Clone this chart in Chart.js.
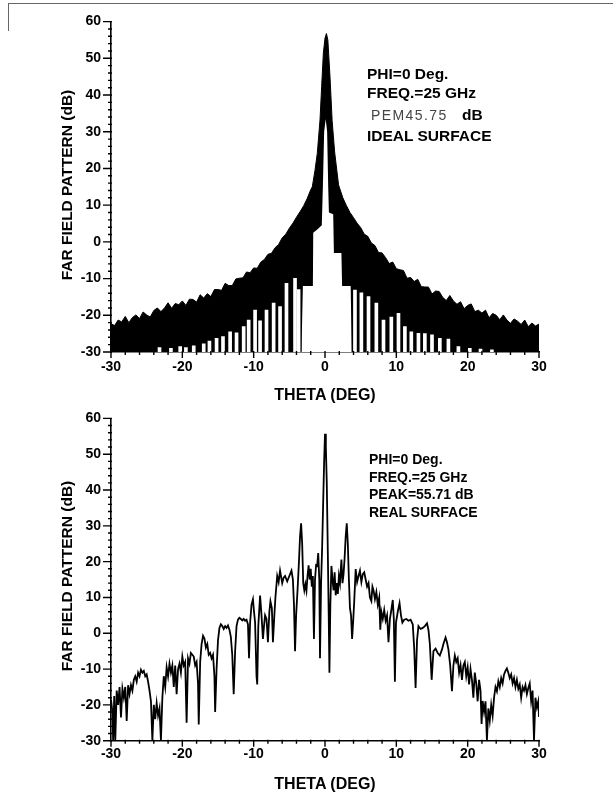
<!DOCTYPE html>
<html><head><meta charset="utf-8">
<script src="https://cdn.jsdelivr.net/npm/chart.js@4.4.0/dist/chart.umd.min.js"></script>
<style>
html,body{margin:0;padding:0;background:#fff;}
body{width:613px;height:797px;position:relative;overflow:hidden;font-family:'Liberation Sans',Arial,sans-serif;}
canvas{position:absolute;left:0;}
#c1{top:0;}
#c2{top:400px;}
.t{position:absolute;font-weight:bold;color:#000;line-height:1;white-space:nowrap;}
.big{font-size:15.5px;}
.mid{font-size:14px;}
.ax{position:absolute;font-weight:bold;font-size:16px;line-height:1;white-space:nowrap;color:#000;transform:translate(-50%,-50%);}
.axv{font-size:15.5px;transform:translate(-50%,-50%) rotate(-90deg);}
.pem{position:absolute;font-size:14px;color:#444;line-height:1;letter-spacing:1.4px;white-space:nowrap;}
.art{position:absolute;background:#666;}
</style></head>
<body>
<div class="art" style="left:8px;top:3px;width:605px;height:1px;"></div>
<div class="art" style="left:8px;top:3px;width:1px;height:28px;"></div>
<canvas id="c1" width="613" height="405"></canvas>
<canvas id="c2" width="613" height="397"></canvas>

<div class="t big" style="left:367px;top:66px;">PHI=0 Deg.</div>
<div class="t big" style="left:367px;top:85px;">FREQ.=25 GHz</div>
<div class="pem" style="left:371px;top:108px;">PEM45.75</div>
<div class="t big" style="left:462px;top:107px;">dB</div>
<div class="t big" style="left:367px;top:128px;">IDEAL SURFACE</div>

<div class="t mid" style="left:369px;top:452px;">PHI=0 Deg.</div>
<div class="t mid" style="left:369px;top:469.5px;">FREQ.=25 GHz</div>
<div class="t mid" style="left:369px;top:487px;">PEAK=55.71 dB</div>
<div class="t mid" style="left:369px;top:504.5px;">REAL SURFACE</div>

<div class="ax" style="left:325px;top:395px;">THETA (DEG)</div>
<div class="ax" style="left:325px;top:784px;">THETA (DEG)</div>
<div class="ax axv" style="left:67px;top:185px;">FAR FIELD PATTERN (dB)</div>
<div class="ax axv" style="left:67px;top:576px;">FAR FIELD PATTERN (dB)</div>

<script>
// ---------- data: ideal surface (upper envelope of the dense pattern) ----------
const topTheta = [-30,-29.5,-29,-28.5,-28,-27.5,-27,-26.5,-26,-25.5,-25,-24.5,-24,-23.5,-23,-22.5,-22,-21.5,-21,-20.5,-20,-19.5,-19,-18.5,-18,-17.5,-17,-16.5,-16,-15.5,-15,-14.5,-14,-13.5,-13,-12.5,-12,-11.5,-11,-10.5,-10,-9.5,-9,-8.5,-8,-7.5,-7,-6.5,-6,-5.5,-5,-4.5,-4,-3.5,-3,-2.5,-2,-1.78,-1.4,-1.08,-0.7,-0.47,-0.23,0,0.2,0.4,0.7,1.0,1.35,1.9,2.5,3,3.5,4,4.5,5,5.5,6,6.5,7,7.5,8,8.5,9,9.5,10,10.5,11,11.5,12,12.5,13,13.5,14,14.5,15,15.5,16,16.5,17,17.5,18,18.5,19,19.5,20,20.5,21,21.5,22,22.5,23,23.5,24,24.5,25,25.5,26,26.5,27,27.5,28,28.5,29,29.5,30];
const topUpper = [-22.3,-22.8,-21.3,-21.8,-20.3,-22.0,-20.6,-19.9,-20.9,-19.1,-19.9,-20.5,-18.7,-18.0,-19.0,-18.0,-16.6,-18.1,-16.8,-17.1,-16.1,-17.3,-15.6,-15.7,-16.4,-14.4,-15.3,-14.1,-14.9,-13.0,-13.0,-13.2,-11.3,-11.9,-11.9,-10.1,-9.9,-9.8,-8.2,-8.4,-7.1,-7.2,-5.5,-4.8,-3.4,-3.1,-1.6,-0.7,1.1,2.1,3.7,5.1,6.7,8.2,9.8,11.8,14.2,15.0,19.5,24.1,33.2,42.3,51.4,55.5,56.75,55.0,45.0,33.0,24.5,15.5,12.0,9.9,8.0,6.6,5.1,3.9,2.1,1.5,-0.3,-1.0,-2.9,-3.0,-4.3,-5.9,-5.5,-7.3,-7.6,-7.8,-9.9,-9.7,-10.8,-10.2,-12.2,-12.3,-12.3,-14.2,-13.4,-13.5,-15.1,-16.0,-14.6,-16.1,-17.0,-16.3,-18.2,-17.3,-16.9,-19.0,-18.6,-19.4,-18.6,-20.7,-19.5,-20.0,-21.2,-19.9,-21.3,-22.2,-21.0,-21.6,-22.5,-21.3,-23.1,-22.1,-22.9,-22.4];
// inner white region under the main beam (lower envelope near boresight)
const tentTheta = [-3.3,-3.1,-1.7,-1.65,-1.0,-0.45,-0.3,-0.12,0.1,0.3,0.45,0.55,1.15,1.25,2.3,2.4,3.6,3.75];
const tentDb    = [-30,-12,-12,2.5,3.5,4.5,15,30,33.5,30,15,8,7.5,-3,-3,-12,-12,-30];
// white gaps between deep nulls (top of each gap, dB)
const gapTheta = [-23.2,-21.6,-20.3,-19.5,-18.4,-17.0,-16.2,-15.2,-14.3,-13.3,-12.4,-11.4,-10.7,-9.8,-9.1,-8.2,-7.2,-6.3,-5.4,-4.2,-3.7,4.2,5.1,6.1,7.2,8.2,9.3,10.3,11.2,12.1,13.1,14.0,15.0,16.1,17.3,18.7,20.3,21.8,23.4];
const gapTop   = [-28.8,-29,-28.5,-28.8,-28.3,-27.8,-27.0,-26.3,-25.8,-24.5,-24.8,-23.1,-21.3,-18.6,-21.5,-18.6,-16.7,-17.6,-11.3,-9.9,-13,-13.1,-13.9,-14.9,-16.7,-21.3,-20.5,-19.5,-23.1,-24.5,-24.9,-25.0,-25.3,-26.3,-26.5,-28.5,-29,-29.2,-29.4];

// ---------- data: real surface ----------
const realTheta = [
 -30.0,-29.8,-29.7,-29.55,-29.4,-29.2,-29.0,-28.8,-28.6,-28.4,
 -28.2,-28.0,-27.8,-27.6,-27.4,-27.2,-27.0,-26.8,-26.6,-26.4,
 -26.2,-26.0,-25.8,-25.6,-25.4,-25.2,-25.0,-24.8,-24.6,-24.4,
 -24.2,-24.0,-23.8,-23.6,-23.4,-23.2,-23.0,-22.8,-22.6,-22.4,
 -22.2,-22.0,-21.8,-21.6,-21.4,-21.2,-21.0,-20.8,-20.6,-20.4,
 -20.2,-20.0,-19.8,-19.6,-19.4,-19.2,-19.0,-18.8,-18.6,-18.4,
 -18.2,-18.0,-17.8,-17.7,-17.5,-17.3,-17.1,-16.9,-16.7,-16.5,
 -16.3,-16.1,-15.9,-15.7,-15.5,-15.4,-15.2,-15.0,-14.8,-14.6,
 -14.4,-14.2,-14.0,-13.8,-13.6,-13.4,-13.2,-13.0,-12.8,-12.6,
 -12.4,-12.2,-12.0,-11.8,-11.6,-11.4,-11.2,-11.0,-10.8,-10.65,
 -10.5,-10.3,-10.1,-9.95,-9.8,-9.6,-9.5,-9.35,-9.1,-8.9,
 -8.7,-8.55,-8.4,-8.2,-8.0,-7.8,-7.65,-7.45,-7.3,-7.1,
 -6.95,-6.7,-6.5,-6.3,-6.0,-5.8,-5.6,-5.3,-5.0,-4.7,
 -4.5,-4.35,-4.2,-4.05,-3.85,-3.65,-3.5,-3.35,-3.2,-3.05,
 -2.9,-2.75,-2.6,-2.45,-2.3,-2.15,-2.0,-1.85,-1.7,-1.55,
 -1.4,-1.25,-1.1,-0.95,-0.8,-0.7,-0.55,-0.4,-0.25,-0.12,
 0.0,0.12,0.25,0.4,0.52,0.62,0.75,0.9,1.05,1.2,
 1.35,1.5,1.65,1.8,1.95,2.1,2.3,2.45,2.6,2.75,
 2.9,3.05,3.2,3.35,3.5,3.65,3.8,3.95,4.1,4.3,
 4.5,4.7,4.9,5.1,5.3,5.5,5.7,5.9,6.1,6.3,
 6.5,6.65,6.8,7.0,7.2,7.4,7.6,7.75,7.9,8.1,
 8.3,8.5,8.7,8.9,9.1,9.3,9.5,9.65,9.8,9.95,
 10.2,10.45,10.65,10.85,11.1,11.4,11.7,12.0,12.3,12.5,
 12.7,12.9,13.1,13.4,13.7,14.0,14.3,14.5,14.7,14.95,
 15.2,15.5,15.8,16.1,16.4,16.6,16.9,17.1,17.3,17.55,
 17.8,18.0,18.2,18.4,18.6,18.8,19.0,19.2,19.4,19.6,
 19.8,20.0,20.2,20.4,20.6,20.8,21.0,21.2,21.4,21.6,
 21.8,21.95,22.1,22.3,22.5,22.7,22.9,23.1,23.3,23.5,
 23.7,23.9,24.1,24.3,24.5,24.7,24.9,25.1,25.3,25.5,
 25.7,25.9,26.1,26.3,26.5,26.7,26.9,27.1,27.3,27.5,
 27.7,27.9,28.1,28.3,28.5,28.7,28.9,29.1,29.3,29.5,
 29.7,29.9,30.0];
const realDb = [
 -18.5,-22,-30,-17.5,-30,-16,-20,-15,-23.5,-15.5,
 -18,-15,-24.5,-14.5,-17,-14.5,-16,-13,-12,-13.5,
 -11,-12,-10.2,-11,-10.5,-12,-11.5,-13.5,-16,-19,
 -30,-20,-24,-19.5,-23,-21,-30,-18,-12,-15,
 -9.5,-12,-8.5,-11,-9,-15,-9,-17,-10,-8.5,
 -11,-6.5,-9,-8,-25,-7,-8.5,-5.5,-6,-6.5,
 -9,-8,-14,-25.5,-8,-3,-0.7,-1.5,-4,-3,
 -6,-5.5,-7,-6,-12,-22,-10,-2,1.5,2.5,
 2,1.2,2,1.5,2.2,1,-1,-6,-17,-5,
 2,3.8,4.3,4,3.6,4,3.5,3.8,2.5,-7,
 3,8,9.5,6,3,-12,-14.3,2,10.5,5,
 -1.6,2,5,4,-2.5,6,8.9,7,-2.5,5,
 10,16,14.3,17.5,14,15.5,16,14.5,16,17.5,
 15,8,-5,5,12,20,27,30.7,25,14,
 12,13.7,11.9,16,19,15,18,13,16,-1.6,
 15,19,18.8,22.4,15,-7,14,24,37,48,
 55.71,52,42,22,5,-11,8,18.8,15,12,
 17,10.6,14,11,16,14,20.6,14,16.5,21,
 27,30.7,25,15,7,5,-1.6,3.4,9,17.9,
 14.3,16,17.5,14.3,16.5,17,15,13,14,10,
 9,13,12,9.5,11.5,8,10,1,6,4,
 6.5,3.5,5,-2.5,4,6.5,9.3,4,-13.5,3,
 6,8.4,5,3,3.8,4,3.5,3.8,2.5,-4,
 -15.3,-2,2,1.2,1.5,2,2.8,1,-3,-13,
 -5,-4.3,-5.5,-6.2,-4.5,-3,-1.2,-2.5,-4.5,-9,
 -16.2,-9,-6.2,-8,-7,-11,-8.9,-13,-9,-8,
 -12,-9.5,-14.3,-10,-13,-18,-11,-14,-19,-13,
 -16,-25.3,-18.9,-22,-19,-30,-21,-24.4,-20,-23,
 -18,-15,-16.2,-13.4,-15,-12.5,-14,-11.5,-10.5,-9.8,
 -11,-12.5,-11.5,-14,-12.5,-15,-13,-15.5,-14.3,-18,
 -15,-16,-14.5,-17,-15.3,-14,-19,-16,-30,-18,
 -20.7,-19,-23.4];

// ---------- axes ----------
const xMin = -30, xMax = 30, xStep = 10, xMinor = 2;
const yMin = -30, yMax = 60, yStep = 10, yMinor = 2;

Chart.defaults.font.family = "'Liberation Sans', Arial, sans-serif";
Chart.defaults.color = '#000';

const pts = (xs, ys) => xs.map((x, i) => ({x: x, y: ys[i]}));

const tickMarks = {
  id: 'tickMarks',
  afterDraw(chart) {
    const {ctx, chartArea: a} = chart;
    const x = chart.scales.x, y = chart.scales.y;
    ctx.save();
    ctx.strokeStyle = '#000';
    ctx.lineWidth = 1.4;
    ctx.beginPath();
    for (let v = xMin; v <= xMax; v += xMinor) {
      const px = x.getPixelForValue(v);
      const len = (v % xStep === 0) ? 6 : 3;
      ctx.moveTo(px, a.bottom - 1);
      ctx.lineTo(px, a.bottom + len);
    }
    for (let v = yMin; v <= yMax; v += yMinor) {
      const py = y.getPixelForValue(v);
      const len = (v % yStep === 0) ? 8 : 3;
      ctx.moveTo(a.left + 1, py);
      ctx.lineTo(a.left - len, py);
    }
    ctx.stroke();
    ctx.restore();
  }
};

function options(padTop, xHeight, xLabelPad) {
  return {
    responsive: false,
    animation: false,
    events: [],
    layout: {padding: {left: 0, right: 74, top: padTop, bottom: 0}},
    plugins: {legend: {display: false}, tooltip: {enabled: false}},
    scales: {
      x: {
        type: 'linear', min: xMin, max: xMax, offset: false, z: 1,
        grid: {display: false, drawTicks: false},
        border: {display: true, color: '#000', width: 1.6},
        ticks: {stepSize: xStep, padding: xLabelPad, maxRotation: 0, autoSkip: false,
                font: {size: 14, weight: 'bold'}, color: '#000'},
        afterFit(s) { s.height = xHeight; }
      },
      y: {
        type: 'linear', min: yMin, max: yMax, z: 1,
        grid: {display: false, drawTicks: false},
        border: {display: true, color: '#000', width: 1.6},
        ticks: {stepSize: yStep, padding: 10, autoSkip: false,
                font: {size: 14, weight: 'bold'}, color: '#000'},
        afterFit(s) { s.width = 111; }
      }
    }
  };
}

new Chart(document.getElementById('c1'), {
  type: 'line',
  data: {
    datasets: [
      {type: 'line', data: pts(topTheta, topUpper), borderColor: '#000', borderWidth: 1,
       backgroundColor: '#000', fill: 'start', pointRadius: 0, tension: 0, order: 3},
      {type: 'line', data: pts(tentTheta, tentDb), borderColor: 'rgba(0,0,0,0)', borderWidth: 0,
       backgroundColor: '#fff', fill: 'start', pointRadius: 0, tension: 0, order: 2},
      {type: 'bar', data: gapTheta.map((t, i) => ({x: t, y: [yMin, gapTop[i]]})),
       backgroundColor: '#fff', borderWidth: 0, barThickness: 3, order: 1}
    ]
  },
  options: options(21.6, 53, 7),
  plugins: [tickMarks]
});

new Chart(document.getElementById('c2'), {
  type: 'line',
  data: {
    datasets: [
      {data: pts(realTheta, realDb), borderColor: '#000', borderWidth: 1.8,
       fill: false, pointRadius: 0, tension: 0}
    ]
  },
  options: options(11, 56.3, 5),
  plugins: [tickMarks]
});
</script>
</body></html>
